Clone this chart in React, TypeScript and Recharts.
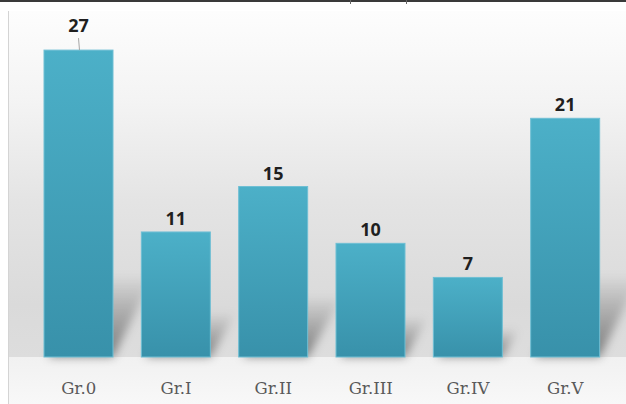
import { BarChart, Bar, XAxis, YAxis, LabelList } from "recharts";

const categories = ["Gr.0", "Gr.I", "Gr.II", "Gr.III", "Gr.IV", "Gr.V"];
const counts = [27, 11, 15, 10, 7, 21];
const yDomain = [0, 30];

const data = categories.map((name, i) => ({ name, count: counts[i] }));

// label of the tallest bar sits a bit higher, joined to the bar by a leader line
const LEADER_INDEX = 0;

const BarWithShadow = (props: any) => {
  const { x, y, width, height } = props;
  const base = y + height;
  const dx = Math.min(height * 0.2, 40);
  const dy = Math.min(height * 0.35, 80);
  const pts = [
    [x + 4, base],
    [x + width, base],
    [x + width + dx, base - dy],
    [x + 4 + dx, base - dy],
  ]
    .map((p) => p.join(","))
    .join(" ");
  return (
    <g>
      <polygon points={pts} fill="url(#shadowGrad)" filter="url(#blurShadow)" />
      <rect x={x} y={y} width={width} height={height} fill="url(#barGrad)" stroke="#6fbfd4" strokeWidth={1} />
    </g>
  );
};

const ValueLabel = (props: any) => {
  const { x, y, width, value, index } = props;
  const cx = x + width / 2;
  if (index === LEADER_INDEX) {
    return (
      <g>
        <line x1={cx} y1={y - 12} x2={cx + 1} y2={y} stroke="#a6a6a6" strokeWidth={1} />
        <text x={cx} y={y - 18} textAnchor="middle" fontSize={18} fontWeight="bold" fill="#1f1f1f"
          fontFamily="'Noto Sans', sans-serif">{value}</text>
      </g>
    );
  }
  return (
    <text x={cx} y={y - 7} textAnchor="middle" fontSize={18} fontWeight="bold" fill="#1f1f1f"
      fontFamily="'Noto Sans', sans-serif">{value}</text>
  );
};

const CatTick = ({ x, y, payload }: any) => (
  <text x={x} y={y + 37} textAnchor="middle" fontSize={16.5} fill="#595959" fontFamily="'DejaVu Serif', serif">
    {payload.value}
  </text>
);

export default function App() {
  return (
    <div style={{ position: "fixed", left: 0, top: 0, width: 626, height: 404, background: "#fff", overflow: "hidden" }}>
      <div style={{ position: "absolute", left: 0, top: 0, width: 626, height: 2, background: "#3a3a3a" }} />
      <div style={{ position: "absolute", left: 350, top: 0, width: 1, height: 4, background: "#666" }} />
      <div style={{ position: "absolute", left: 406, top: 0, width: 1, height: 4, background: "#666" }} />
      <div style={{ position: "absolute", left: 8, top: 11, width: 618, height: 346,
        background: "linear-gradient(to bottom, #fdfdfd 0%, #f4f4f4 25%, #e4e4e4 55%, #dadada 85%, #dddddd 100%)" }} />
      <div style={{ position: "absolute", left: 8, top: 357, width: 618, height: 47,
        background: "linear-gradient(to bottom, #f1f1f1, #f8f8f8)" }} />
      <div style={{ position: "absolute", left: 8, top: 11, width: 1, height: 393, background: "#d4d4d4" }} />
      <div style={{ position: "absolute", left: 0, top: 0 }}>
        <BarChart width={626} height={404} data={data} margin={{ top: 16, right: 12, left: 30, bottom: 17 }}>
          <defs>
            <linearGradient id="barGrad" x1="0" y1="0" x2="0" y2="1">
              <stop offset="0%" stopColor="#4cb0c8" />
              <stop offset="100%" stopColor="#3891aa" />
            </linearGradient>
            <linearGradient id="shadowGrad" x1="0" y1="0" x2="0" y2="1">
              <stop offset="0%" stopColor="#000" stopOpacity={0.02} />
              <stop offset="100%" stopColor="#000" stopOpacity={0.45} />
            </linearGradient>
            <filter id="blurShadow" x="-50%" y="-50%" width="200%" height="200%">
              <feGaussianBlur stdDeviation={5} />
            </filter>
          </defs>
          <XAxis dataKey="name" axisLine={false} tickLine={false} tickSize={0} tickMargin={0} height={30}
            tick={<CatTick />} interval={0} />
          <YAxis hide domain={yDomain} />
          <Bar dataKey="count" barSize={69} shape={<BarWithShadow />} isAnimationActive={false}>
            <LabelList dataKey="count" content={<ValueLabel />} />
          </Bar>
        </BarChart>
      </div>
    </div>
  );
}
